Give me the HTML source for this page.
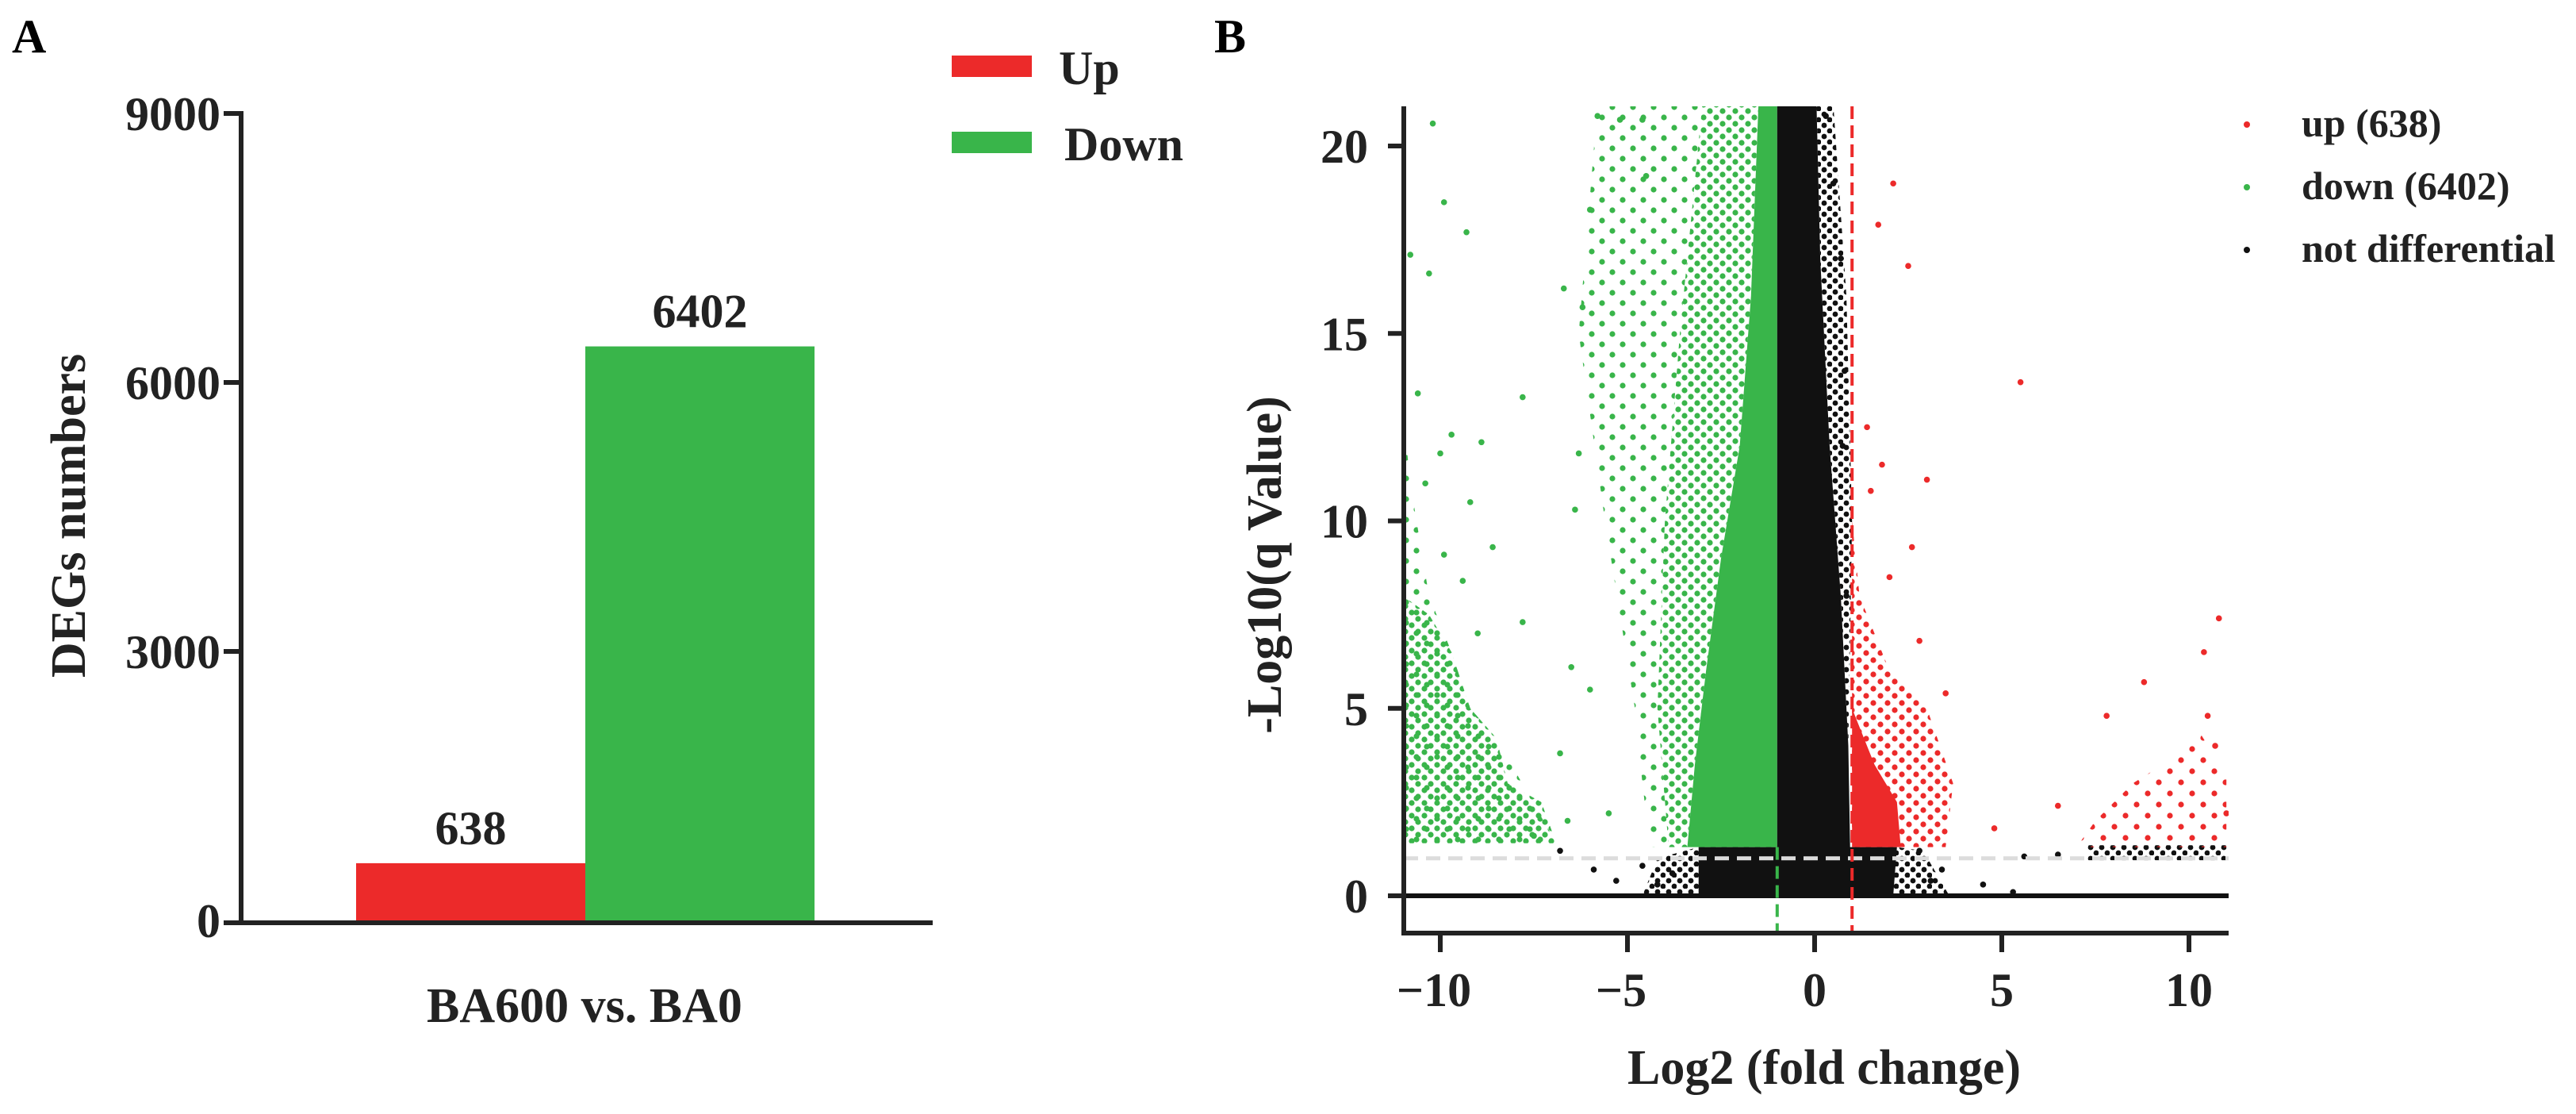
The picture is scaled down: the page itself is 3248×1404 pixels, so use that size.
<!DOCTYPE html>
<html><head><meta charset="utf-8"><style>
html,body{margin:0;padding:0;background:#fff;}
svg{display:block;font-family:"Liberation Serif",serif;font-weight:bold;}
</style></head><body>
<svg id="fig" width="3248" height="1404" viewBox="0 0 3248 1404" xmlns="http://www.w3.org/2000/svg">
<defs>
<pattern id="dotsGreen" width="16" height="16" patternUnits="userSpaceOnUse"><circle cx="4" cy="4" r="3.6" fill="#39b54a"/><circle cx="12" cy="12" r="3.6" fill="#39b54a"/></pattern>
<pattern id="dotsGreenSparse" width="26" height="26" patternUnits="userSpaceOnUse"><circle cx="5" cy="5" r="3.6" fill="#39b54a"/><circle cx="18" cy="18" r="3.6" fill="#39b54a"/></pattern>
<pattern id="dotsBlack" width="14" height="14" patternUnits="userSpaceOnUse"><circle cx="4" cy="4" r="3.4" fill="#111"/><circle cx="11" cy="11" r="3.4" fill="#111"/></pattern>
<pattern id="dotsRed" width="18" height="18" patternUnits="userSpaceOnUse"><circle cx="4" cy="4" r="3.6" fill="#ec2a2a"/><circle cx="13" cy="13" r="3.6" fill="#ec2a2a"/></pattern>
<pattern id="dotsRedSparse" width="28" height="28" patternUnits="userSpaceOnUse"><circle cx="6" cy="6" r="3.6" fill="#ec2a2a"/><circle cx="20" cy="20" r="3.6" fill="#ec2a2a"/></pattern>
</defs>
<g id="panelA"></g>
<g id="panelB"></g>
</svg>
<script>
// ---- Panel A data ----
const barCategories = ["Up", "Down"];
const barValues = [638, 6402];
const barColors = ["#ec2a2a", "#39b54a"];
const barTicks = [0, 3000, 6000, 9000];

// ---- Panel B data ----
const xTicks = [-10, -5, 0, 5, 10];
const yTicks = [0, 5, 10, 15, 20];
const legendLabels = ["up (638)", "down (6402)", "not differential"];
const legendColors = ["#ec2a2a", "#39b54a", "#111111"];
// regions (data coords: [log2FC, -log10q])
const greenLeftDense = [[-11,1.4],[-6.9,1.4],[-7.3,2.5],[-8.2,3],[-8.5,4.2],[-9.2,5],[-9.7,6.5],[-10.3,7.5],[-11,8]];
const greenLeftSparse = [[-11,1.4],[-6.9,1.4],[-8.5,4.2],[-9.2,5],[-9.7,6.5],[-10.3,8],[-10.8,11],[-11,13]];
const greenCenterDense = [[-3.4,1.3],[-1,1.3],[-1,21.1],[-1.5,21.1],[-1.7,16],[-2.0,12],[-2.5,9],[-2.9,6],[-3.2,3.5]];
const greenCenterMid = [[-3.9,1.3],[-3.4,1.3],[-3.2,3.5],[-2.9,6],[-2.5,9],[-2.0,12],[-1.7,16],[-1.5,21.1],[-3.0,21.1],[-3.6,15],[-4.0,10],[-4.2,5]];
const greenCenterSparse = [[-4.4,1.3],[-3.9,1.3],[-4.2,5],[-4.0,10],[-3.6,15],[-3.0,21.1],[-5.8,21.1],[-6.3,15],[-5.6,10],[-4.8,5],[-4.6,3]];
const blackCoreDense = [[-1,1.2],[0.95,1.2],[0.9,4],[0.7,8],[0.4,12],[0.15,17],[0.05,21.1],[-1,21.1]];
const blackCoreSparse = [[0.9,4],[1.0,10],[0.85,16],[0.5,21.1],[0.05,21.1],[0.15,17],[0.4,12],[0.7,8]];
const blackLowDense = [[-3.1,0],[2.1,0],[2.2,1.3],[-3.1,1.3]];
const blackLowSparse = [[-4.6,0],[3.6,0],[2.9,1.2],[2.2,1.3],[-3.1,1.3],[-4.2,1.0]];
const blackRightBand = [[7.3,0.95],[11,0.95],[11,1.35],[7.3,1.35]];
const redDense = [[1,1.3],[2.3,1.3],[2.2,2.5],[1.6,3.5],[1.2,4.5],[1,5]];
const redSparse = [[1,1.3],[3.5,1.3],[3.7,3],[3,5],[2,6],[1.2,8],[1,10]];
const redRightSparse = [[7,1.3],[11,1.3],[11,3.2],[10.2,4.5],[9.3,3.5],[8.5,3],[7.5,2]];
const greenOutX = [-10.2,-9.9,-9.3,-10.8,-10.3,-9.7,-8.9,-7.8,-10.6,-10,-10.4,-9.2,-9.9,-9.4,-8.6,-7.8,-9,-6.7,-5.8,-5.2,-6,-6.2,-6.4,-6.3,-6.5,-6,-4.6,-4.5,-6.8,-5.5,-6.6,-7.5];
const greenOutY = [20.6,18.5,17.7,17.1,16.6,12.3,12.1,13.3,13.4,11.8,11,10.5,9.1,8.4,9.3,7.3,7,16.2,20.8,20.7,18.3,15.7,10.3,11.8,6.1,5.5,20.7,19.2,3.8,2.2,2.0,1.6];
const redOutX = [2.1,1.7,2.5,5.5,3.0,1.5,1.8,2.0,2.8,3.5,4.8,10.8,10.4,8.8,10.5,7.8,10.7,11,6.5,1.4,2.6];
const redOutY = [19,17.9,16.8,13.7,11.1,10.8,11.5,8.5,6.8,5.4,1.8,7.4,6.5,5.7,4.8,4.8,4,2.2,2.4,12.5,9.3];
const blackOutX = [-6.8,-5.9,-4.6,0.3,0.5,0.7,0.8,0.75,0.85,3.1,4.5,5.3,5.6,6.5,2.8,3.4,-4.2,-3.8,-5.3];
const blackOutY = [1.2,0.7,0.8,20.8,19,17,14,12,8,0.4,0.3,0.1,1.05,1.1,1.2,0.7,0.3,0.6,0.4];

const NS = "http://www.w3.org/2000/svg";
function mk(parent, tag, attrs, text) {
  const e = document.createElementNS(NS, tag);
  for (const k in attrs) e.setAttribute(k, attrs[k]);
  if (text !== undefined) e.textContent = text;
  parent.appendChild(e);
  return e;
}

// ================= Panel A =================
const A = document.getElementById("panelA");
const aY0 = 1160, aYTop = 143, aX0 = 304, aX1 = 1176;
const aBandStart = 449, aBandW = 289;
function ay(v) { return aY0 - v / 9000 * (aY0 - aYTop); }
function ax(i) { return aBandStart + i * aBandW; }

let t = mk(A, "text", {x: 15, y: 66, "font-size": 60}, "A");



barValues.forEach((v, i) => {
  const r = mk(A, "rect", {x: ax(i), y: ay(v), width: aBandW, height: aY0 - ay(v), fill: barColors[i]});
  
  
  const l = mk(A, "text", {x: ax(i) + aBandW / 2, y: ay(v) - 24, "font-size": 60, "text-anchor": "middle", fill: "#222"}, String(v));
  
  
});
let ln = mk(A, "line", {x1: aX0, y1: aYTop - 3, x2: aX0, y2: aY0 + 3, stroke: "#222", "stroke-width": 6});


ln = mk(A, "line", {x1: aX0 - 3, y1: aY0 + 3, x2: aX1, y2: aY0 + 3, stroke: "#222", "stroke-width": 6});


barTicks.forEach(v => {
  const tk = mk(A, "line", {x1: aX0 - 22, y1: ay(v) + (v === 0 ? 3 : 0), x2: aX0, y2: ay(v) + (v === 0 ? 3 : 0), stroke: "#222", "stroke-width": 6});
  
  
  const tl = mk(A, "text", {x: 278, y: ay(v) + 21, "font-size": 60, "text-anchor": "end", fill: "#222"}, String(v));
  
  
});
t = mk(A, "text", {x: 0, y: 0, "font-size": 62, "text-anchor": "middle", fill: "#222", transform: "translate(107,650) rotate(-90)"}, "DEGs numbers");


t = mk(A, "text", {x: 737, y: 1288, "font-size": 62, "text-anchor": "middle", fill: "#222"}, "BA600 vs. BA0");


const legY = [70, 166];
const legTX = [1335, 1342];
barCategories.forEach((c, i) => {
  const r = mk(A, "rect", {x: 1200, y: legY[i], width: 101, height: 27, fill: barColors[i]});
  
  
  const lt = mk(A, "text", {x: legTX[i], y: legY[i] + 36, "font-size": 60, fill: "#222"}, c);
  
  
});

// ================= Panel B =================
const B = document.getElementById("panelB");
const bL = 1770, bR = 2810, bT = 134, bB = 1176;
function bx(d) { return 2288 + d * 47.2; }
function by(d) { return 1129 - d * 47.25; }
function pts(arr) { return arr.map(p => bx(p[0]).toFixed(1) + "," + by(p[1]).toFixed(1)).join(" "); }

t = mk(B, "text", {x: 1531, y: 66, "font-size": 60}, "B");



const defs = document.querySelector("defs");
const cp = mk(defs, "clipPath", {id: "plotclip"});
mk(cp, "rect", {x: bL, y: bT, width: bR - bL, height: bB - bT});
const plot = mk(B, "g", {"clip-path": "url(#plotclip)"});



function region(arr, fill, name) {
  const p = mk(plot, "polygon", {points: pts(arr), fill: fill});
  
  
}
ln = mk(plot, "line", {x1: bL, y1: by(0), x2: bR, y2: by(0), stroke: "#111", "stroke-width": 6});



region(blackLowSparse, "url(#dotsBlack)", "not-differential-sparse-band");
region(blackLowDense, "#111", "not-differential-low-band");
region(blackRightBand, "url(#dotsBlack)", "not-differential-right-band");
region(greenCenterSparse, "url(#dotsGreenSparse)", "down-sparse-region");
region(greenCenterMid, "url(#dotsGreen)", "down-mid-region");
region(greenLeftSparse, "url(#dotsGreenSparse)", "down-left-sparse");
region(greenLeftDense, "url(#dotsGreen)", "down-left-cluster");
region(greenCenterDense, "#39b54a", "down-center-cluster");
region(blackCoreSparse, "url(#dotsBlack)", "not-differential-core-sparse");
region(blackCoreDense, "#111", "not-differential-core");
region(redSparse, "url(#dotsRed)", "up-sparse-region");
region(redDense, "#ec2a2a", "up-center-cluster");
region(redRightSparse, "url(#dotsRedSparse)", "up-right-cluster");

function dots(xs, ys, color, name) {
  xs.forEach((x, i) => {
    const c = mk(plot, "circle", {cx: bx(x), cy: by(ys[i]), r: 3.8, fill: color});
    
    
  });
}
dots(greenOutX, greenOutY, "#39b54a", "down-point");
dots(redOutX, redOutY, "#ec2a2a", "up-point");
dots(blackOutX, blackOutY, "#111", "not-differential-point");

ln = mk(plot, "line", {x1: bL, y1: by(1), x2: bR, y2: by(1), stroke: "#dcdcdc", "stroke-width": 5, "stroke-dasharray": "18 10"});


ln = mk(plot, "line", {x1: bx(-1), y1: by(1.3), x2: bx(-1), y2: bB, stroke: "#39b54a", "stroke-width": 4, "stroke-dasharray": "16 8"});


ln = mk(plot, "line", {x1: bx(1), y1: bT, x2: bx(1), y2: bB, stroke: "#ec2a2a", "stroke-width": 4, "stroke-dasharray": "16 8"});



ln = mk(B, "line", {x1: bL, y1: bT, x2: bL, y2: bB + 3, stroke: "#222", "stroke-width": 6});


ln = mk(B, "line", {x1: bL - 3, y1: bB, x2: bR, y2: bB, stroke: "#222", "stroke-width": 6});


yTicks.forEach(v => {
  const tk = mk(B, "line", {x1: bL - 20, y1: by(v), x2: bL, y2: by(v), stroke: "#222", "stroke-width": 6});
  
  
  const tl = mk(B, "text", {x: 1725, y: by(v) + 21, "font-size": 60, "text-anchor": "end", fill: "#222"}, String(v));
  
  
});
xTicks.forEach(v => {
  const tk = mk(B, "line", {x1: bx(v), y1: bB, x2: bx(v), y2: bB + 24, stroke: "#222", "stroke-width": 6});
  
  
  const tl = mk(B, "text", {x: bx(v) - (v < 0 ? 8 : 0), y: 1268, "font-size": 60, "text-anchor": "middle", fill: "#222"}, (v < 0 ? "\u2212" + Math.abs(v) : String(v)));
  
  
});
t = mk(B, "text", {x: 2300, y: 1366, "font-size": 62, "text-anchor": "middle", fill: "#222"}, "Log2 (fold change)");


t = mk(B, "text", {x: 0, y: 0, "font-size": 62, "text-anchor": "middle", fill: "#222", transform: "translate(1615,712) rotate(-90)"}, "-Log10(q Value)");



const legCY = [157, 236, 315];
legendLabels.forEach((lab, i) => {
  const d = mk(B, "circle", {cx: 2833, cy: legCY[i], r: 4, fill: legendColors[i]});
  
  
  const lt = mk(B, "text", {x: 2902, y: legCY[i] + 15, "font-size": 50, fill: "#222"}, lab);
  
  
});
</script>
</body></html>
